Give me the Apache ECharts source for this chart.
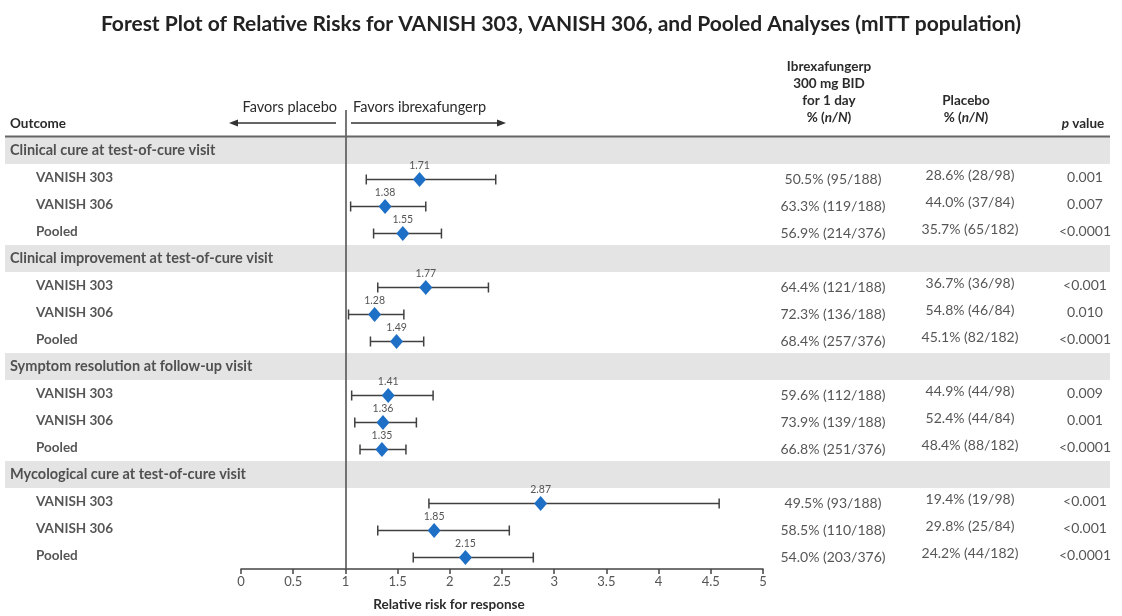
<!DOCTYPE html>
<html>
<head>
<meta charset="utf-8">
<script src="https://cdn.jsdelivr.net/npm/echarts@6/dist/echarts.min.js"></script>
<style>
  html, body { margin: 0; padding: 0; background: #fff; }
  #forest { width: 1122px; height: 616px; }
</style>
</head>
<body>
<div id="forest"></div>
<script>
// outcome groups and study rows
const groups = [
  'Clinical cure at test-of-cure visit',
  'Clinical improvement at test-of-cure visit',
  'Symptom resolution at follow-up visit',
  'Mycological cure at test-of-cure visit'
];
const studies = ['VANISH 303', 'VANISH 306', 'Pooled'];

// relative risk and 95% CI, one per study row (group order)
const rr     = [1.71, 1.38, 1.55, 1.77, 1.28, 1.49, 1.41, 1.36, 1.35, 2.87, 1.85, 2.15];
const ciLow  = [1.20, 1.05, 1.27, 1.31, 1.03, 1.24, 1.06, 1.09, 1.14, 1.80, 1.31, 1.65];
const ciHigh = [2.44, 1.77, 1.92, 2.37, 1.56, 1.75, 1.84, 1.68, 1.58, 4.58, 2.57, 2.80];

const ibrexCol = [
  '50.5% (95/188)', '63.3% (119/188)', '56.9% (214/376)',
  '64.4% (121/188)', '72.3% (136/188)', '68.4% (257/376)',
  '59.6% (112/188)', '73.9% (139/188)', '66.8% (251/376)',
  '49.5% (93/188)', '58.5% (110/188)', '54.0% (203/376)'
];
const placeboCol = [
  '28.6% (28/98)', '44.0% (37/84)', '35.7% (65/182)',
  '36.7% (36/98)', '54.8% (46/84)', '45.1% (82/182)',
  '44.9% (44/98)', '52.4% (44/84)', '48.4% (88/182)',
  '19.4% (19/98)', '29.8% (25/84)', '24.2% (44/182)'
];
const pValues = [
  '0.001', '0.007', '<0.0001',
  '<0.001', '0.010', '<0.0001',
  '0.009', '0.001', '<0.0001',
  '<0.001', '<0.001', '<0.0001'
];

const xTickMin = 0, xTickMax = 5, xTickStep = 0.5;

// ---- layout (pixels) ----
const FONT = 'Lato';
const TOP = 110, BOTTOM = 569;
const PLOT_L = 241, PLOT_R = 763;
const COL1 = 833, COL2 = 970, COL3 = 1085;
const TXT = '#2b2b2b';

// slot 0 = column headers, then header + 3 rows per group
const slots = ['hdr'];
const groupSlot = [];
const rowSlot = [];
groups.forEach(function (g) {
  groupSlot.push(slots.length);
  slots.push(g);
  studies.forEach(function (s) {
    rowSlot.push(slots.length);
    slots.push(g + '|' + s);
  });
});

const chart = echarts.init(document.getElementById('forest'));

function textItems(x, list, slotIdx) {
  return list.map(function (t, i) {
    return { value: [x, slotIdx[i]], label: { formatter: t } };
  });
}

function textSeries(data, align, offY, bold, size) {
  return {
    type: 'scatter', xAxisIndex: 1, yAxisIndex: 1, symbolSize: 0, z: 5,
    silent: true,
    label: {
      show: true, position: 'inside', align: align, verticalAlign: 'middle',
      offset: [0, offY], color: TXT, fontFamily: FONT, fontSize: size,
      fontWeight: bold ? 'bold' : 'normal'
    },
    data: data
  };
}

const studyLabels = rr.map(function (v, i) { return studies[i % 3]; });

const ciData = rr.map(function (v, i) {
  return [ciLow[i], ciHigh[i], rowSlot[i], v];
});

function renderCI(params, api) {
  const lo = api.coord([api.value(0), api.value(2)]);
  const hi = api.coord([api.value(1), api.value(2)]);
  const c = api.coord([api.value(3), api.value(2)]);
  const y = lo[1] + 2;
  const line = { stroke: '#404040', lineWidth: 1.5 };
  return {
    type: 'group',
    children: [
      { type: 'line', shape: { x1: lo[0], y1: y, x2: hi[0], y2: y }, style: line },
      { type: 'line', shape: { x1: lo[0], y1: y - 5, x2: lo[0], y2: y + 5 }, style: line },
      { type: 'line', shape: { x1: hi[0], y1: y - 5, x2: hi[0], y2: y + 5 }, style: line },
      { type: 'polygon', shape: { points: [[c[0], y - 7.5], [c[0] + 6.5, y], [c[0], y + 7.5], [c[0] - 6.5, y]] },
        style: { fill: '#1e6fc6' } },
      { type: 'text', style: { text: api.value(3).toFixed(2), x: c[0], y: y - 8,
        textAlign: 'center', textVerticalAlign: 'bottom', fontSize: 10.5, fontFamily: FONT, fill: '#555' } }
    ]
  };
}

function renderBand(params, api) {
  const p = api.coord([0, api.value(0)]);
  const h = api.size([0, 1])[1];
  return { type: 'rect', shape: { x: 5, y: p[1] - h / 2, width: 1105, height: h },
    style: { fill: '#e4e4e4' } };
}

const HS = 13.5;
const hdrStyle = { fontFamily: FONT, fontSize: HS, fontWeight: 'bold', fill: TXT, textAlign: 'center' };
function hdr(text, x, y, extra) {
  return { type: 'text', style: Object.assign({}, hdrStyle, { text: text, x: x, y: y, textVerticalAlign: 'middle' }, extra || {}) };
}
const hdrRich = {
  b: { fontFamily: FONT, fontSize: HS, fontWeight: 'bold', fill: TXT },
  i: { fontFamily: FONT, fontSize: HS, fontWeight: 'bold', fontStyle: 'italic', fill: TXT }
};
function richHdr(text, x, y) {
  return { type: 'text', style: { text: text, rich: hdrRich, x: x, y: y, textAlign: 'center', textVerticalAlign: 'middle' } };
}

const option = {
  animation: false,
  title: {
    text: 'Forest Plot of Relative Risks for VANISH 303, VANISH 306, and Pooled Analyses (mITT population)',
    left: 'center', top: 9,
    textStyle: { fontFamily: FONT, fontSize: 21, fontWeight: 'bold', color: '#222' }
  },
  grid: [
    { left: PLOT_L, width: PLOT_R - PLOT_L, top: TOP, height: BOTTOM - TOP },
    { left: 0, right: 0, top: TOP, height: BOTTOM - TOP }
  ],
  xAxis: [
    {
      gridIndex: 0, type: 'value', min: xTickMin, max: xTickMax, interval: xTickStep,
      splitLine: { show: false },
      axisLine: { show: true, lineStyle: { color: '#444', width: 1.5 } },
      axisTick: { show: true, length: 5, lineStyle: { color: '#444', width: 1.5 } },
      axisLabel: { color: '#555', fontFamily: FONT, fontSize: 13, margin: 6 }
    },
    { gridIndex: 1, type: 'value', min: 0, max: 1122, show: false }
  ],
  yAxis: [
    { gridIndex: 0, type: 'category', data: slots, inverse: true, show: false },
    { gridIndex: 1, type: 'category', data: slots, inverse: true, show: false }
  ],
  graphic: [
    // header rule
    { type: 'line', shape: { x1: 5, y1: 136.5, x2: 1110, y2: 136.5 }, style: { stroke: '#666', lineWidth: 2 }, z: 10 },
    // direction labels and arrows
    hdr('Favors placebo', 337, 107, { textAlign: 'right', fontWeight: 'normal', fontSize: 14.5 }),
    hdr('Favors ibrexafungerp', 353, 107, { textAlign: 'left', fontWeight: 'normal', fontSize: 14.5 }),
    { type: 'line', shape: { x1: 336, y1: 123, x2: 236, y2: 123 }, style: { stroke: '#333', lineWidth: 1.4 } },
    { type: 'polygon', shape: { points: [[229, 123], [238, 119.5], [238, 126.5]] }, style: { fill: '#333' } },
    { type: 'line', shape: { x1: 351, y1: 123, x2: 499, y2: 123 }, style: { stroke: '#333', lineWidth: 1.4 } },
    { type: 'polygon', shape: { points: [[506, 123], [497, 119.5], [497, 126.5]] }, style: { fill: '#333' } },
    hdr('Outcome', 10, 124, { textAlign: 'left' }),
    // column headers
    hdr('Ibrexafungerp', COL1 - 4, 67),
    hdr('300 mg BID', COL1 - 4, 84),
    hdr('for 1 day', COL1 - 4, 101),
    richHdr('{b|% (}{i|n/N}{b|)}', COL1 - 4, 118),
    hdr('Placebo', COL2 - 4, 101),
    richHdr('{b|% (}{i|n/N}{b|)}', COL2 - 4, 118),
    richHdr('{i|p}{b| value}', COL3 - 2, 124),
    // axis title
    hdr('Relative risk for response', 449, 605)
  ],
  series: [
    {
      type: 'custom', xAxisIndex: 1, yAxisIndex: 1, z: 0, silent: true,
      renderItem: renderBand,
      data: groupSlot.map(function (s) { return [s]; }),
      encode: { y: 0 }
    },
    // reference line at RR = 1
    {
      type: 'line', xAxisIndex: 0, yAxisIndex: 0, data: [], z: 3,
      markLine: {
        silent: true, symbol: 'none', label: { show: false },
        lineStyle: { color: '#555', width: 1.6, type: 'solid' },
        data: [{ xAxis: 1 }]
      }
    },
    {
      type: 'custom', xAxisIndex: 0, yAxisIndex: 0, z: 4, silent: true,
      renderItem: renderCI,
      data: ciData,
      encode: { x: [0, 1, 3], y: 2 }
    },
    textSeries(textItems(10, groups, groupSlot), 'left', 0, true, 14.5),
    textSeries(textItems(36, studyLabels, rowSlot), 'left', 0, true, 13.5),
    textSeries(textItems(COL1, ibrexCol, rowSlot), 'center', 2, false, 14),
    textSeries(textItems(COL2, placeboCol, rowSlot), 'center', -2, false, 14),
    textSeries(textItems(COL3, pValues, rowSlot), 'center', 0, false, 14)
  ]
};

chart.setOption(option);
</script>
</body>
</html>
